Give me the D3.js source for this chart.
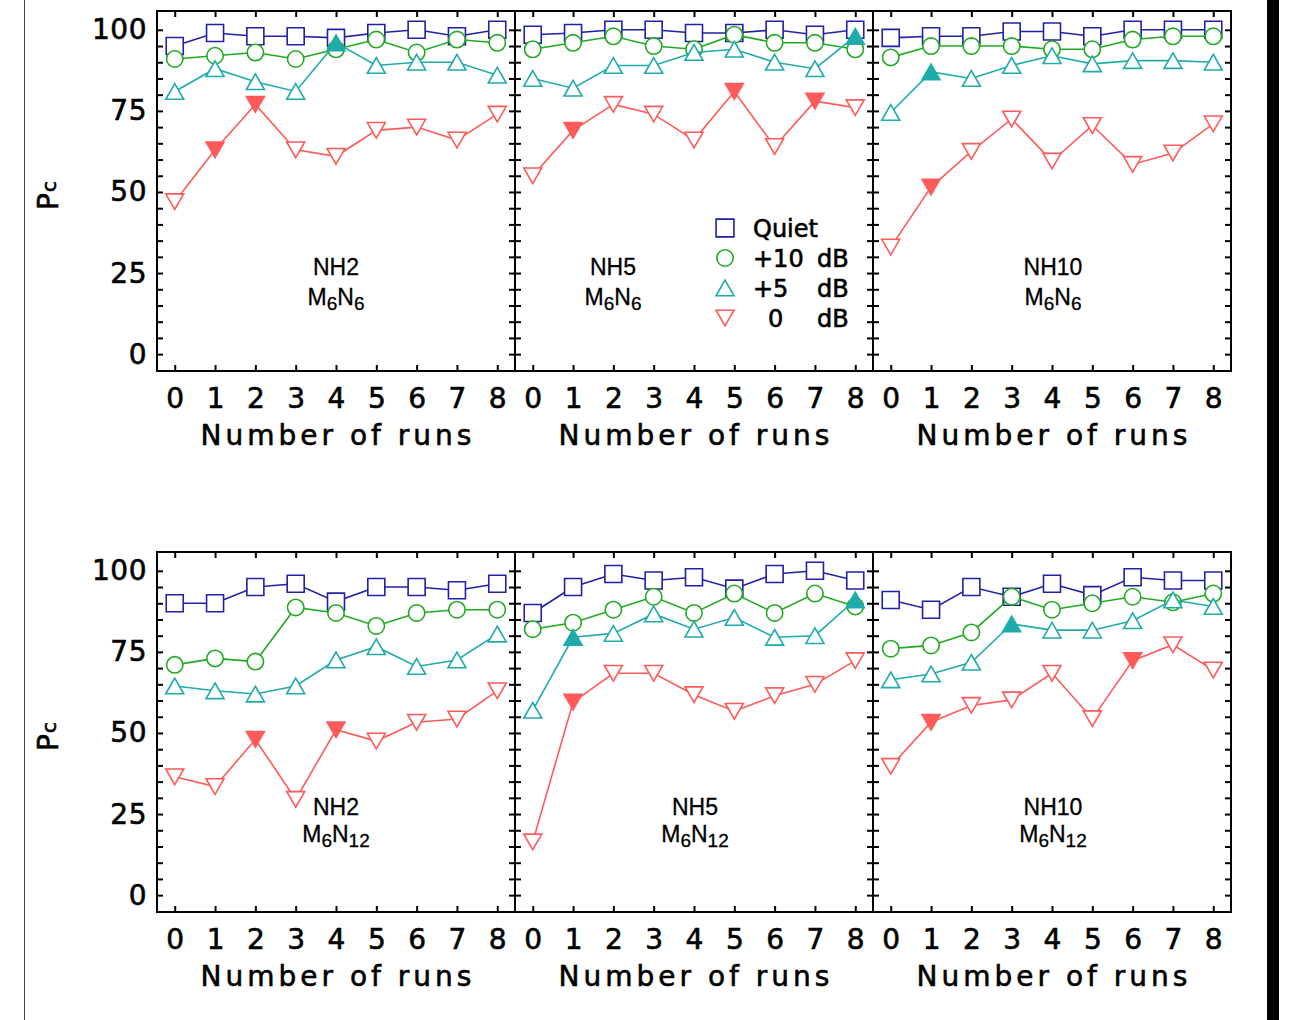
<!DOCTYPE html>
<html>
<head>
<meta charset="utf-8">
<script src="https://cdn.jsdelivr.net/npm/d3@7"></script>
<style>
  html, body { margin: 0; padding: 0; background: #fff; }
  svg { display: block; }
  text { font-family: "Liberation Sans", Arial, sans-serif; fill: #000; }
  .hf { font-family: "DejaVu Sans", sans-serif; stroke: #000; stroke-width: 0.6px; }
</style>
</head>
<body>
<svg id="chart" width="1299" height="1020"></svg>
<script>
// ---------------- DATA ----------------
const runs = [0, 1, 2, 3, 4, 5, 6, 7, 8];
const conditions = ["Quiet", "+10", "+5", "0"];
const yTickLabels = [0, 25, 50, 75, 100];

// NH2, M6N6
const nh2m6n6Quiet = [95, 99, 98, 98, 97.5, 99, 100, 98, 100];
const nh2m6n6Plus10 = [91, 92, 93, 91, 94, 97, 93, 97, 96];
const nh2m6n6Plus5 = [81, 88, 84, 81, 96, 89, 90, 90, 86];
const nh2m6n6Zero = [47, 63, 77, 63, 61, 69, 70, 66, 74];
const nh2m6n6Filled5 = [4];
const nh2m6n6Filled0 = [1, 2];

// NH5, M6N6
const nh5m6n6Quiet = [98.5, 99, 100, 100, 99, 99, 100, 98.5, 100];
const nh5m6n6Plus10 = [94, 96, 98, 95, 94, 98.5, 96, 96, 94];
const nh5m6n6Plus5 = [85, 82, 89, 89, 93, 94, 90, 88, 98];
const nh5m6n6Zero = [55, 69, 77, 74, 66, 81, 64, 78, 76];
const nh5m6n6Filled5 = [8];
const nh5m6n6Filled0 = [1, 5, 7];

// NH10, M6N6
const nh10m6n6Quiet = [97.5, 98, 98, 99.5, 99.5, 98, 100, 100, 100];
const nh10m6n6Plus10 = [91.5, 95, 95, 95, 94, 94, 97, 98, 98];
const nh10m6n6Plus5 = [74.5, 87, 85, 89, 92, 89.5, 90.5, 90.5, 90];
const nh10m6n6Zero = [33, 51.5, 62.5, 72.5, 59.5, 70.5, 58.5, 62, 71];
const nh10m6n6Filled5 = [1];
const nh10m6n6Filled0 = [1];

// NH2, M6N12
const nh2m6n12Quiet = [90, 90, 95, 96, 90.5, 95, 95, 94, 96];
const nh2m6n12Plus10 = [71, 73, 72, 88.7, 87, 83, 87, 88, 88];
const nh2m6n12Plus5 = [64.5, 63, 62, 64.5, 72.5, 76.6, 70.5, 72.5, 80.5];
const nh2m6n12Zero = [36.5, 33.5, 48, 29.5, 51, 47.5, 53.3, 54.3, 63];
const nh2m6n12Filled5 = [];
const nh2m6n12Filled0 = [2, 4];

// NH5, M6N12
const nh5m6n12Quiet = [87, 95, 99, 97, 98, 94.5, 99, 100, 97];
const nh5m6n12Plus10 = [82, 84, 88, 92, 87, 93, 87, 93, 89];
const nh5m6n12Plus5 = [57, 79.5, 80.7, 86.7, 82, 85.6, 79.5, 80, 91];
const nh5m6n12Zero = [16.4, 59.5, 68.4, 68.4, 61.8, 56.7, 61.5, 65, 72.3];
const nh5m6n12Filled5 = [1, 8];
const nh5m6n12Filled0 = [1];

// NH10, M6N12
const nh10m6n12Quiet = [91, 88, 95, 92, 96, 92.5, 98, 97, 97];
const nh10m6n12Plus10 = [76, 77, 81, 92, 88, 90, 92, 90.3, 93];
const nh10m6n12Plus5 = [66.4, 68.2, 71.8, 83.6, 81.7, 81.7, 84.6, 91, 89];
const nh10m6n12Zero = [39.7, 53.3, 58.5, 60.2, 68.4, 54.4, 72.3, 77.2, 69.4];
const nh10m6n12Filled5 = [3];
const nh10m6n12Filled0 = [1, 6];

const panels = [
  { nh: "NH2",  n: "6",  row: 0, col: 0, series: [nh2m6n6Quiet, nh2m6n6Plus10, nh2m6n6Plus5, nh2m6n6Zero], filled5: nh2m6n6Filled5, filled0: nh2m6n6Filled0 },
  { nh: "NH5",  n: "6",  row: 0, col: 1, series: [nh5m6n6Quiet, nh5m6n6Plus10, nh5m6n6Plus5, nh5m6n6Zero], filled5: nh5m6n6Filled5, filled0: nh5m6n6Filled0 },
  { nh: "NH10", n: "6",  row: 0, col: 2, series: [nh10m6n6Quiet, nh10m6n6Plus10, nh10m6n6Plus5, nh10m6n6Zero], filled5: nh10m6n6Filled5, filled0: nh10m6n6Filled0 },
  { nh: "NH2",  n: "12", row: 1, col: 0, series: [nh2m6n12Quiet, nh2m6n12Plus10, nh2m6n12Plus5, nh2m6n12Zero], filled5: nh2m6n12Filled5, filled0: nh2m6n12Filled0 },
  { nh: "NH5",  n: "12", row: 1, col: 1, series: [nh5m6n12Quiet, nh5m6n12Plus10, nh5m6n12Plus5, nh5m6n12Zero], filled5: nh5m6n12Filled5, filled0: nh5m6n12Filled0 },
  { nh: "NH10", n: "12", row: 1, col: 2, series: [nh10m6n12Quiet, nh10m6n12Plus10, nh10m6n12Plus5, nh10m6n12Zero], filled5: nh10m6n12Filled5, filled0: nh10m6n12Filled0 }
];

// ---------------- LAYOUT / STYLE ----------------
const colX = [157, 515, 873];
const rowY = [11, 552];
const PW = 358, PH = 360;
const colors = ["#2020a8", "#20aa20", "#20abab", "#ff5a5a"];
const labelCX = [[336, 613, 1053], [336, 695, 1053]];
const labelBase = [[275, 305], [815, 842]];

const svg = d3.select("#chart");

// page decorations
svg.append("line").attr("x1", 24.5).attr("x2", 24.5).attr("y1", 0).attr("y2", 1020)
  .attr("stroke", "#444").attr("stroke-width", 1);
svg.append("rect").attr("x", 1267).attr("y", 0).attr("width", 12).attr("height", 1020).attr("fill", "#000");

// custom symbols centred on their bounding box
const triUp = {
  draw(ctx, size) {
    const s = Math.sqrt(size * 4 / Math.sqrt(3));
    const h = s * Math.sqrt(3) / 2;
    ctx.moveTo(0, -h / 2); ctx.lineTo(s / 2, h / 2); ctx.lineTo(-s / 2, h / 2); ctx.closePath();
  }
};
const triDown = {
  draw(ctx, size) {
    const s = Math.sqrt(size * 4 / Math.sqrt(3));
    const h = s * Math.sqrt(3) / 2;
    ctx.moveTo(0, h / 2); ctx.lineTo(s / 2, -h / 2); ctx.lineTo(-s / 2, -h / 2); ctx.closePath();
  }
};
const symTypes = [d3.symbolSquare, d3.symbolCircle, triUp, triDown];
const symSizes = [17 * 17, Math.PI * 8.2 * 8.2, 18 * 18 * Math.sqrt(3) / 4, 18 * 18 * Math.sqrt(3) / 4];

panels.forEach(p => {
  const x0 = colX[p.col], y0 = rowY[p.row];
  const x = d3.scaleLinear().domain([-0.44, 8.44]).range([x0, x0 + PW]);
  const y = d3.scaleLinear().domain([-5.2, 105.8]).range([y0 + PH, y0]);
  const g = svg.append("g");

  // ticks via axes
  const minor = d3.range(0, 101, 5);
  const tk = (sel) => { sel.select(".domain").remove(); sel.selectAll("line").attr("stroke", "#000").attr("stroke-width", 2); };
  g.append("g").attr("transform", `translate(0,${y0 + PH})`)
    .call(d3.axisBottom(x).tickValues(runs).tickSizeInner(-6).tickSizeOuter(0).tickFormat(d3.format("d")))
    .call(tk)
    .call(s => s.selectAll("text").attr("y", 37).attr("dy", 0).attr("font-size", 28)
      .attr("class", "hf").attr("fill", "#000"));
  g.append("g").attr("transform", `translate(0,${y0})`)
    .call(d3.axisTop(x).tickValues(runs).tickSizeInner(-6).tickSizeOuter(0).tickFormat(""))
    .call(tk);
  g.append("g").attr("transform", `translate(${x0},0)`)
    .call(d3.axisLeft(y).tickValues(minor).tickSizeInner(-6).tickSizeOuter(0).tickFormat(""))
    .call(tk);
  g.append("g").attr("transform", `translate(${x0 + PW},0)`)
    .call(d3.axisRight(y).tickValues(minor).tickSizeInner(-6).tickSizeOuter(0).tickFormat(""))
    .call(tk);

  if (p.col === 0) {
    g.append("g").attr("transform", `translate(${x0},0)`)
      .call(d3.axisLeft(y).tickValues(yTickLabels).tickSize(0).tickPadding(10).tickFormat(d3.format("d")))
      .call(s => s.select(".domain").remove())
      .call(s => s.selectAll("text").attr("font-size", 28).attr("letter-spacing", 0.5)
        .attr("class", "hf").attr("fill", "#000"));
    const yl = g.append("text").attr("class", "hf")
      .attr("transform", `translate(58,${(y(0) + y(100)) / 2 + 18}) rotate(-90)`)
      .attr("font-size", 28);
    yl.append("tspan").text("P");
    yl.append("tspan").attr("font-size", 20).attr("dy", -2).attr("dx", 1).text("c");
  }

  // x axis title
  g.append("text").attr("class", "hf").attr("x", x0 + PW / 2 + 2).attr("y", y0 + PH + 74)
    .attr("text-anchor", "middle").attr("font-size", 28).attr("letter-spacing", 4)
    .text("Number of runs");

  // frame
  g.append("rect").attr("x", x0).attr("y", y0).attr("width", PW).attr("height", PH)
    .attr("fill", "none").attr("stroke", "#000").attr("stroke-width", 2);

  // series
  const line = d3.line().x((d, i) => x(runs[i])).y(d => y(d));
  p.series.forEach((vals, si) => {
    g.append("path").datum(vals).attr("d", line)
      .attr("fill", "none").attr("stroke", colors[si]).attr("stroke-width", 1.6);
    const filled = si === 2 ? p.filled5 : (si === 3 ? p.filled0 : []);
    g.selectAll(null).data(vals).enter().append("path")
      .attr("transform", (d, i) => `translate(${x(runs[i])},${y(d)})`)
      .attr("d", d3.symbol().type(symTypes[si]).size(symSizes[si]))
      .attr("fill", (d, i) => filled.includes(i) ? colors[si] : "#fff")
      .attr("stroke", colors[si]).attr("stroke-width", 1.6);
  });

  // panel label
  const cx = labelCX[p.row][p.col];
  g.append("text").attr("x", cx).attr("y", labelBase[p.row][0]).attr("text-anchor", "middle")
    .attr("font-size", 23).attr("stroke", "#000").attr("stroke-width", 0.3).text(p.nh);
  const t2 = g.append("text").attr("x", cx).attr("y", labelBase[p.row][1]).attr("text-anchor", "middle")
    .attr("font-size", 23).attr("stroke", "#000").attr("stroke-width", 0.3);
  t2.append("tspan").text("M");
  t2.append("tspan").attr("font-size", 19).attr("dy", 5).text("6");
  t2.append("tspan").attr("dy", -5).text("N");
  t2.append("tspan").attr("font-size", 19).attr("dy", 5).text(p.n);
});

// legend (in NH5 M6N6 panel)
const legY = d3.scaleBand().domain(conditions).range([213, 333]);
const leg = svg.append("g");
conditions.forEach((c, i) => {
  const cy = legY(c) + legY.bandwidth() / 2;
  leg.append("path").attr("transform", `translate(725,${cy})`)
    .attr("d", d3.symbol().type(symTypes[i]).size(symSizes[i] * (i === 0 ? 1.1 : 1)))
    .attr("fill", "#fff").attr("stroke", colors[i]).attr("stroke-width", 1.6);
  if (i === 0) {
    leg.append("text").attr("class", "hf").attr("x", 753).attr("y", cy + 9).attr("font-size", 24).text("Quiet");
  } else {
    leg.append("text").attr("class", "hf").attr("x", i === 3 ? 768 : 753).attr("y", cy + 9).attr("font-size", 24).text(c);
    leg.append("text").attr("class", "hf").attr("x", 817).attr("y", cy + 9).attr("font-size", 24).text("dB");
  }
});
</script>
</body>
</html>
